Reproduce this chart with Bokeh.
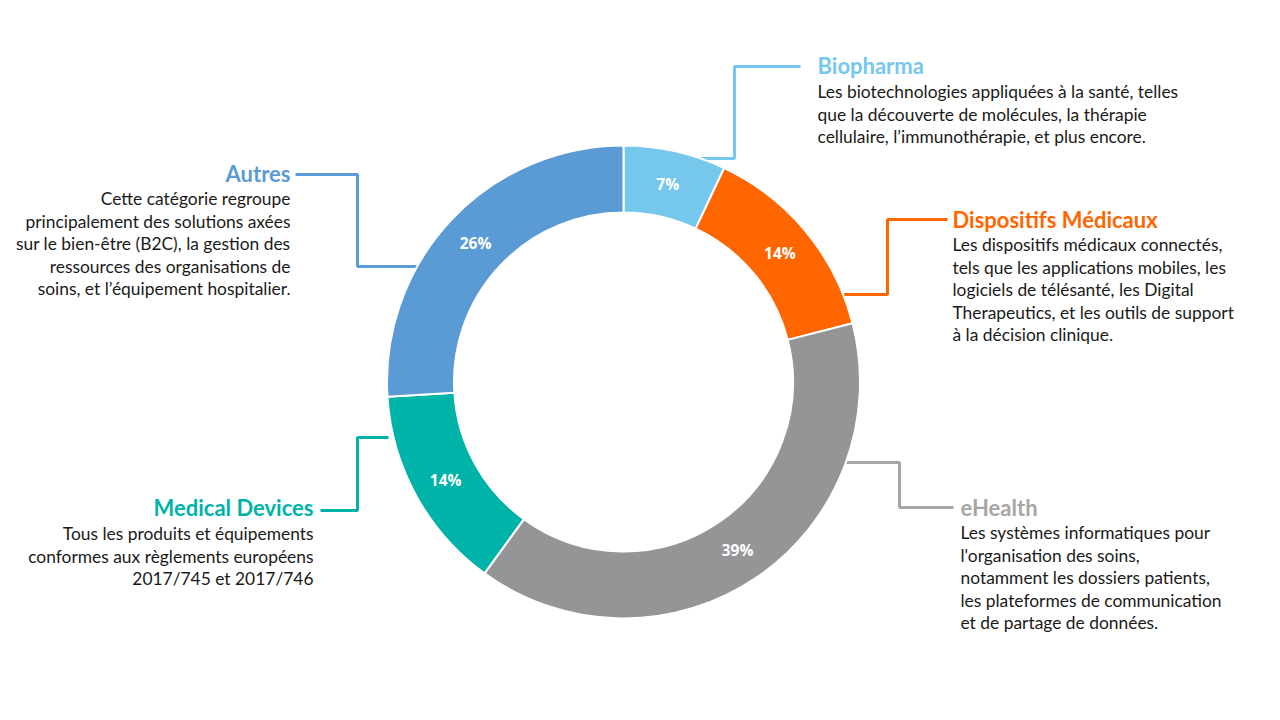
import numpy as np
from bokeh.plotting import figure
from bokeh.models import Range1d, ColumnDataSource
from bokeh.core.properties import value
from bokeh.embed import file_html
from bokeh.resources import INLINE

# ---------------- data ----------------
categories = ["Biopharma", "Dispositifs Médicaux", "eHealth", "Medical Devices", "Autres"]
shares = [7, 14, 39, 14, 26]
colors = ["#75C7EC", "#FF6600", "#959598", "#00B3A9", "#5B9BD5"]
title_colors = ["#75C7EC", "#FF6600", "#A6A6A6", "#00B3A9", "#5B9BD5"]
descriptions = [
    ["Les biotechnologies appliquées à la santé, telles",
     "que la découverte de molécules, la thérapie",
     "cellulaire, l\u2019immunothérapie, et plus encore."],
    ["Les dispositifs médicaux connectés,",
     "tels que les applications mobiles, les",
     "logiciels de télésanté, les Digital",
     "Therapeutics, et les outils de support",
     "à la décision clinique."],
    ["Les systèmes informatiques pour",
     "l'organisation des soins,",
     "notamment les dossiers patients,",
     "les plateformes de communication",
     "et de partage de données."],
    ["Tous les produits et équipements",
     "conformes aux règlements européens",
     "2017/745 et 2017/746"],
    ["Cette catégorie regroupe",
     "principalement des solutions axées",
     "sur le bien-être (B2C), la gestion des",
     "ressources des organisations de",
     "soins, et l\u2019équipement hospitalier."],
]

# ---------------- layout (screen pixels) ----------------
W, H = 1264, 704
CX, CY = 623, 381.5
R_OUT, R_IN = 236.5, 169.5
R_LAB = 203

def sy(y):
    return 720 - y

# title anchor (x, y, align), description first line y
label_layout = [
    (817, 65, "left", 91),
    (952, 219, "left", 244),
    (960, 507, "left", 532),
    (313, 507, "right", 533),
    (290, 173, "right", 198),
]
LINE_STEP = 22.6
leader_paths = [
    [(697, 158), (734, 158), (734, 66), (800, 66)],
    [(843, 294), (887, 294), (887, 219), (947, 219)],
    [(845, 462), (899, 462), (899, 507), (953, 507)],
    [(388, 437), (357, 437), (357, 510), (320, 510)],
    [(295, 174), (357, 174), (357, 266), (420, 266)],
]

p = figure(width=W, height=H, output_backend="svg", toolbar_location=None,
           x_range=Range1d(0, W), y_range=Range1d(720 - H, 720),
           min_border=0, outline_line_color=None)
p.axis.visible = False
p.grid.visible = False
p.background_fill_color = "white"
p.border_fill_color = "white"

# leader lines (drawn under the ring)
for path, col in zip(leader_paths, title_colors):
    p.line([q[0] for q in path], [sy(q[1]) for q in path], line_color=col, line_width=3)

# donut
fr = np.array(shares, dtype=float) / sum(shares)
c1 = np.cumsum(fr)
c0 = c1 - fr
start = np.pi / 2 - 2 * np.pi * c0
end = np.pi / 2 - 2 * np.pi * c1
src = ColumnDataSource(dict(start=start, end=end, color=colors))
p.annular_wedge(x=CX, y=sy(CY), inner_radius=R_IN, outer_radius=R_OUT,
                start_angle="start", end_angle="end", direction="clock",
                fill_color="color", line_color="white", line_width=2, source=src)

# percentage labels
mid = np.pi / 2 - 2 * np.pi * (c0 + c1) / 2
lx = CX + R_LAB * np.cos(mid)
ly = sy(CY) + R_LAB * np.sin(mid)
p.text(x=lx, y=ly, text=[f"{s}%" for s in shares], text_color="white",
       text_font=value("Open Sans"), text_font_style="bold", text_font_size="15.5px",
       text_align="center", text_baseline="middle")

# titles and descriptions
for cat, col, desc, (tx, ty, al, dy) in zip(categories, title_colors, descriptions, label_layout):
    p.text(x=[tx], y=[sy(ty)], text=[cat], text_color=col,
           text_font=value("Lato"), text_font_style="bold", text_font_size="22px",
           text_align=al, text_baseline="middle")
    ys = [sy(dy + i * LINE_STEP) for i in range(len(desc))]
    p.text(x=[tx] * len(desc), y=ys, text=desc, text_color="#1A1A1A",
           text_font=value("Lato"), text_font_size="17.4px",
           text_align=al, text_baseline="middle")

open("out.html", "w").write(file_html(p, INLINE))
